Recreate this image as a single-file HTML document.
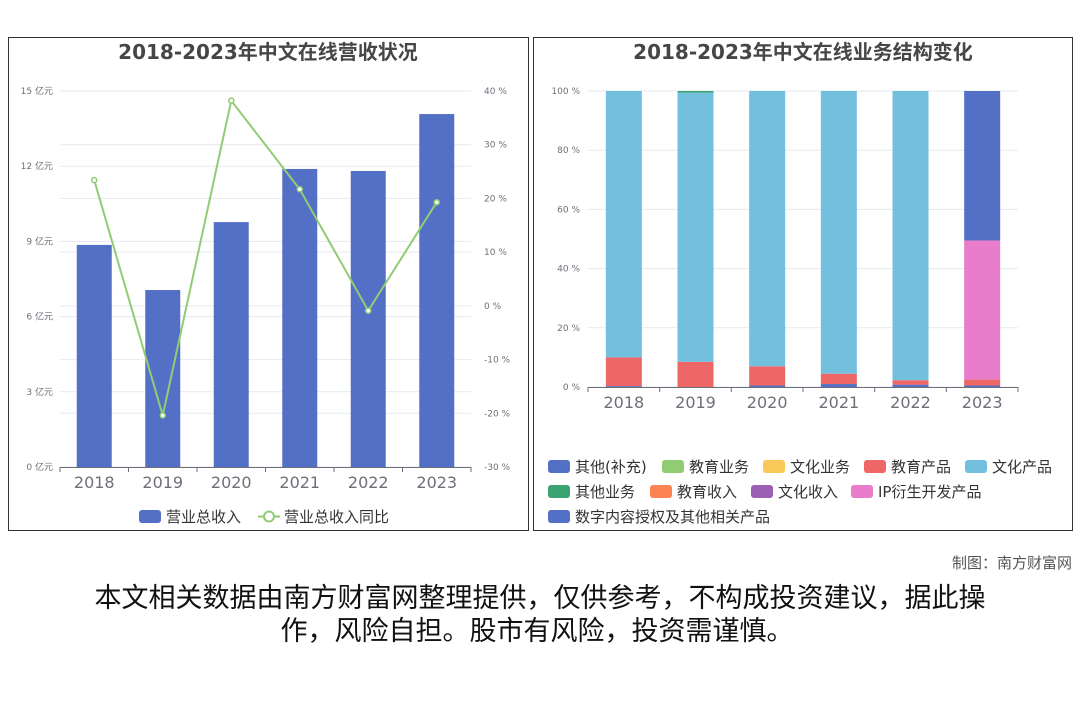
<!DOCTYPE html>
<html><head><meta charset="utf-8"><style>
body{margin:0;background:#fff;width:1080px;height:720px;overflow:hidden;font-family:"DejaVu Sans","Noto Sans CJK SC",sans-serif}
svg text{font-family:"DejaVu Sans","Noto Sans CJK SC",sans-serif}
</style></head><body>
<svg id="s" width="1080" height="720">
<rect x="8.5" y="37.5" width="520" height="493" fill="#fff" stroke="#333"/>
<rect x="533.5" y="37.5" width="539" height="493" fill="#fff" stroke="#333"/>
<text x="268" y="59" text-anchor="middle" font-size="20" font-weight="bold" fill="#464646">2018-2023年中文在线营收状况</text>
<text x="803" y="59" text-anchor="middle" font-size="20" font-weight="bold" fill="#464646">2018-2023年中文在线业务结构变化</text>
<g id="L"></g><g id="R"></g>
<text x="1072" y="568" text-anchor="end" font-size="15" fill="#555">制图：南方财富网</text>
<text x="540" y="607" text-anchor="middle" font-size="27" fill="#111">本文相关数据由南方财富网整理提供，仅供参考，不构成投资建议，据此操</text>
<text x="537" y="640" text-anchor="middle" font-size="27" fill="#111">作，风险自担。股市有风险，投资需谨慎。</text>
</svg>
<script>
const years=["2018","2019","2020","2021","2022","2023"];
const revenue=[8.86,7.06,9.77,11.89,11.81,14.08];
const growth=[23.4,-20.4,38.2,21.7,-0.9,19.3];
const revTicks=[0,3,6,9,12,15];
const pctTicks=[-30,-20,-10,0,10,20,30,40];
const seriesNames=["其他(补充)","教育业务","文化业务","教育产品","文化产品","其他业务","教育收入","文化收入","IP衍生开发产品","数字内容授权及其他相关产品"];
const seriesColors=["#5470c6","#91cc75","#fac858","#ee6666","#73c0de","#3ba272","#fc8452","#9a60b4","#ea7ccc","#5470c6"];
const s_other=[0.3,0,0.5,1,0.8,0.5];
const s_eduBiz=[0,0,0,0,0,0];
const s_culBiz=[0,0,0,0,0,0];
const s_eduProd=[9.7,8.5,6.5,3.5,1.5,2];
const s_culProd=[90,91,93,95.5,97.7,0];
const s_otherBiz=[0,0.5,0,0,0,0];
const s_eduRev=[0,0,0,0,0,0];
const s_culRev=[0,0,0,0,0,0];
const s_ip=[0,0,0,0,0,47];
const s_digital=[0,0,0,0,0,50.5];
const stackSeries=[s_other,s_eduBiz,s_culBiz,s_eduProd,s_culProd,s_otherBiz,s_eduRev,s_culRev,s_ip,s_digital];
const shareTicks=[0,20,40,60,80,100];
const NS="http://www.w3.org/2000/svg";
function mk(p,t,a,txt){const e=document.createElementNS(NS,t);for(const k in a)e.setAttribute(k,a[k]);if(txt!==undefined)e.textContent=txt;p.appendChild(e);return e;}
const L=document.getElementById('L');
const lx0=60,lx1=471,ly0=467,ly1=91;
const bw=(lx1-lx0)/years.length;
const yL=v=>ly0-(v-0)/(15-0)*(ly0-ly1);
const yP=v=>ly0-(v+30)/70*(ly0-ly1);
const xC=i=>lx0+bw*(i+0.5);
for(const t of pctTicks){const y=yP(t);
 let g=mk(L,'line',{x1:lx0,x2:lx1,y1:y,y2:y,stroke:'#e6e9f2'});
 let tx=mk(L,'text',{x:484,y:y+3,'font-size':9,fill:'#6e7079'},t+' %');}
for(const t of revTicks){const y=yL(t);
 let g=mk(L,'line',{x1:lx0,x2:lx1,y1:y,y2:y,stroke:'#e6e9f2'});
 let tx=mk(L,'text',{x:53,y:y+3,'font-size':9,fill:'#6e7079','text-anchor':'end'},t+' 亿元');}
revenue.forEach((v,i)=>{let r=mk(L,'rect',{x:xC(i)-17.5,y:yL(v),width:35,height:ly0-yL(v),fill:'#5470c6'});
 });
let ax=mk(L,'line',{x1:lx0,x2:lx1,y1:ly0+.5,y2:ly0+.5,stroke:'#6e7079'});
years.forEach((y,i)=>{mk(L,'line',{x1:lx0+bw*i,x2:lx0+bw*i,y1:ly0,y2:ly0+5,stroke:'#6e7079'});
 let t=mk(L,'text',{x:xC(i),y:488,'font-size':16,fill:'#6e7079','text-anchor':'middle'},y);});
mk(L,'line',{x1:lx1,x2:lx1,y1:ly0,y2:ly0+5,stroke:'#6e7079'});
let pl=mk(L,'polyline',{points:growth.map((v,i)=>xC(i)+','+yP(v)).join(' '),fill:'none',stroke:'#91cc75','stroke-width':2});

growth.forEach((v,i)=>{let c=mk(L,'circle',{cx:xC(i),cy:yP(v),r:2.5,fill:'#fff',stroke:'#91cc75','stroke-width':1.5});});
let lg1=mk(L,'rect',{x:139,y:510,width:22,height:13,rx:3,fill:'#5470c6'});
let lt1=mk(L,'text',{x:166,y:522,'font-size':15,fill:'#333'},'营业总收入');
mk(L,'line',{x1:258,x2:280,y1:516.5,y2:516.5,stroke:'#91cc75','stroke-width':2});
mk(L,'circle',{cx:269,cy:516.5,r:5,fill:'#fff',stroke:'#91cc75','stroke-width':2});
let lt2=mk(L,'text',{x:284,y:522,'font-size':15,fill:'#333'},'营业总收入同比');
const R=document.getElementById('R');
const rx0=588,rx1=1018,ry0=387,ry1=91;
const rbw=(rx1-rx0)/years.length;
const yR=v=>ry0-v/100*(ry0-ry1);
const xR=i=>rx0+rbw*(i+0.5);
for(const t of shareTicks){const y=yR(t);
 let g=mk(R,'line',{x1:rx0,x2:rx1,y1:y,y2:y,stroke:'#e6e9f2'});
 let tx=mk(R,'text',{x:580,y:y+3,'font-size':9,fill:'#6e7079','text-anchor':'end'},t+' %');}
years.forEach((yr,i)=>{let acc=0;stackSeries.forEach((s,k)=>{const v=s[i];if(v<=0)return;
 let r=mk(R,'rect',{x:xR(i)-18,y:yR(acc+v),width:36,height:yR(acc)-yR(acc+v),fill:seriesColors[k]});
 acc+=v;});});
let rax=mk(R,'line',{x1:rx0,x2:rx1,y1:ry0+.5,y2:ry0+.5,stroke:'#6e7079'});
years.forEach((y,i)=>{mk(R,'line',{x1:rx0+rbw*i,x2:rx0+rbw*i,y1:ry0,y2:ry0+5,stroke:'#6e7079'});
 let t=mk(R,'text',{x:xR(i),y:408,'font-size':16,fill:'#6e7079','text-anchor':'middle'},y);});
mk(R,'line',{x1:rx1,x2:rx1,y1:ry0,y2:ry0+5,stroke:'#6e7079'});
const legX=[548,662,763,864,965,548,650,751,851,548];
const legY=[466,466,466,466,466,491,491,491,491,516];
seriesNames.forEach((n,k)=>{let sw=mk(R,'rect',{x:legX[k],y:legY[k]-6,width:22,height:13,rx:3,fill:seriesColors[k]});
 
 let t=mk(R,'text',{x:legX[k]+27,y:legY[k]+6,'font-size':15,fill:'#333'},n);});
</script>
</body></html>
